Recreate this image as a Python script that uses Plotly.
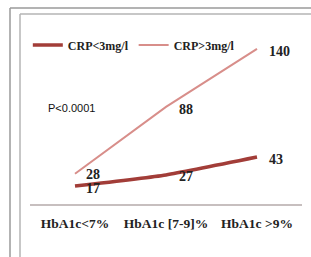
import plotly.graph_objects as go

categories = ["HbA1c<7%", "HbA1c [7-9]%", "HbA1c >9%"]
series_names = ["CRP<3mg/l", "CRP>3mg/l"]
crp_low = [17, 27, 43]
crp_high = [28, 88, 140]
p_text = "P<0.0001"

W, H = 311, 257
L, R, T, B = 25, 4, 0, 52
pw, ph = W - L - R, H - T - B
step = 91.0
c0 = 75 - L

def px(x):
    return (x - L) / pw

def py(y):
    return (H - B - y) / ph

dark = "#a23d38"
light = "#d88e8a"
serif = "Liberation Serif"

fig = go.Figure()
fig.add_trace(go.Scatter(x=categories, y=crp_low, mode="lines", name=series_names[0],
                         line=dict(color=dark, width=3.5, shape="spline", smoothing=0.5)))
fig.add_trace(go.Scatter(x=categories, y=crp_high, mode="lines", name=series_names[1],
                         line=dict(color=light, width=2)))

shifts_low = [(18, -2), (20, -2), (19, -2)]
shifts_high = [(18, -1), (20, -3), (22, -3)]
for vals, shifts in ((crp_low, shifts_low), (crp_high, shifts_high)):
    for c, v, (dx, dy) in zip(categories, vals, shifts):
        fig.add_annotation(x=c, y=v, text=str(v), showarrow=False, xshift=dx, yshift=dy,
                           font=dict(family=serif, size=14, color="#222", weight="bold"))

fig.add_annotation(xref="paper", yref="paper", x=px(46), y=py(108), text=p_text,
                   showarrow=False, xanchor="left", yanchor="middle",
                   font=dict(family="Liberation Sans", size=11, color="#111"))

frame = "#9a9a9a"
for x0, y0, x1, y1, col, w in [
    (10, 8, 311, 8, frame, 1.5), (10, 8, 10, 257, frame, 1.5),
    (20, 14, 311, 14, "#b5b5b5", 1.5), (20, 14, 20, 257, "#b5b5b5", 1.5),
    (30, 205, 302, 205, "#b4aaaa", 1.5),
]:
    fig.add_shape(type="line", xref="paper", yref="paper",
                  x0=px(x0), y0=py(y0), x1=px(x1), y1=py(y1),
                  line=dict(color=col, width=w))

fig.update_layout(
    width=W, height=H, margin=dict(l=L, r=R, t=T, b=B, autoexpand=False),
    paper_bgcolor="white", plot_bgcolor="white",
    showlegend=True,
    legend=dict(orientation="h", x=0.01, y=py(45), xanchor="left", yanchor="middle",
                font=dict(family=serif, size=12, color="#222", weight="bold"),
                bgcolor="rgba(0,0,0,0)", itemwidth=30, tracegroupgap=0),
    xaxis=dict(type="category", range=[-c0 / step, (pw - c0) / step], showgrid=False,
               zeroline=False, showline=False, automargin=False,
               ticks="outside", ticklen=6, tickcolor="rgba(0,0,0,0)",
               tickfont=dict(family=serif, size=13.5, color="#222", weight="bold")),
    yaxis=dict(range=[0, 183.9], visible=False, fixedrange=True, automargin=False),
)

fig.write_html("out.html", config={"displayModeBar": False},
               post_script="document.body.style.margin='0';")
